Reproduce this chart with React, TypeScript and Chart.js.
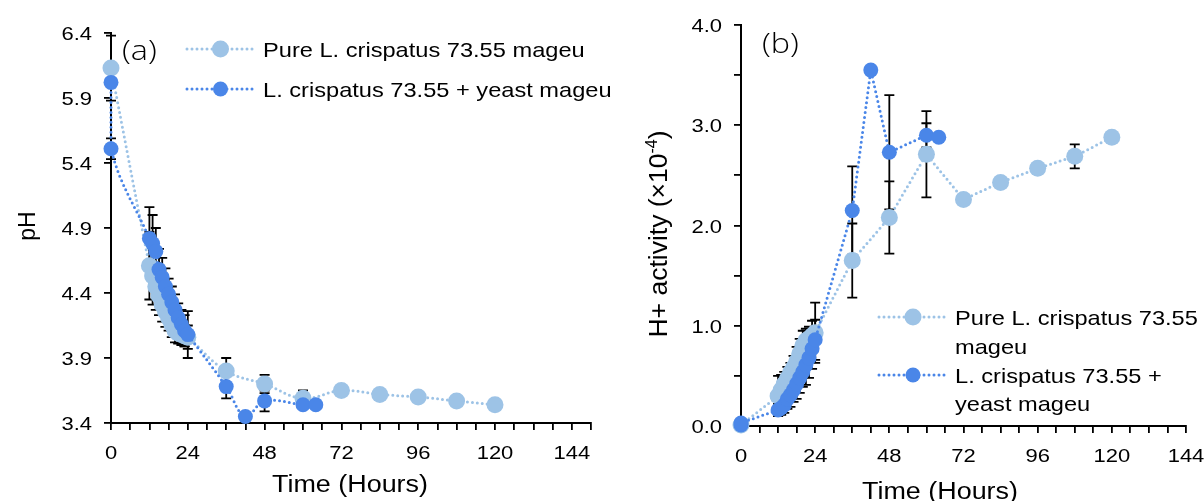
import React, { useEffect, useRef } from 'react';
import { Chart, registerables } from 'chart.js';
Chart.register(...registerables);

const FONT = "'Liberation Sans', Arial, sans-serif";
const TAG_FONT = "'Open Sans', 'Noto Sans', sans-serif";
const LIGHT = '#9DC3E6';
const DARK = '#4A86E8';

// ---------- Panel (a): pH ----------
const pureLabel = 'Pure L. crispatus 73.55 mageu';
const mixLabel = 'L. crispatus 73.55 + yeast mageu';
const timeTitle = 'Time (Hours)';

const hourLabels = [0, 24, 48, 72, 96, 120, 144];

const phPureTime = [0, 12, 13, 14, 15, 16, 17, 18, 19, 20, 21, 22, 23, 24, 36, 48, 60, 72, 84, 96, 108, 120];
const phPureValue = [6.13, 4.61, 4.53, 4.45, 4.38, 4.31, 4.26, 4.21, 4.16, 4.11, 4.09, 4.08, 4.07, 4.06, 3.80, 3.70, 3.59, 3.65, 3.62, 3.60, 3.57, 3.54];
const phPureError = [0.25, 0.26, 0.22, 0.18, 0.15, 0.13, 0.12, 0.1, 0.1, 0.09, 0.08, 0.08, 0.08, 0.09, 0.1, 0.07, 0.06, 0, 0, 0, 0, 0];

const phMixTime = [0, 0, 12, 13, 14, 15, 16, 17, 18, 19, 20, 21, 22, 23, 24, 36, 42, 48, 60, 64];
const phMixValue = [6.02, 5.51, 4.82, 4.78, 4.72, 4.58, 4.52, 4.45, 4.39, 4.33, 4.27, 4.21, 4.16, 4.11, 4.08, 3.68, 3.45, 3.57, 3.54, 3.54];
const phMixError = [0, 0.08, 0.24, 0.22, 0.18, 0.16, 0.15, 0.14, 0.12, 0.12, 0.12, 0.11, 0.11, 0.12, 0.18, 0.09, 0, 0.08, 0.02, 0];

const phTicks = [3.4, 3.9, 4.4, 4.9, 5.4, 5.9, 6.4];
const phTickLabels = ['3.4', '3.9', '4.4', '4.9', '5.4', '5.9', '6.4'];

// ---------- Panel (b): H+ activity ----------
const hPureTime = [0, 12, 13, 14, 15, 16, 17, 18, 19, 20, 21, 22, 23, 24, 36, 48, 60, 72, 84, 96, 108, 120];
const hPureValue = [0.01, 0.30, 0.36, 0.42, 0.47, 0.53, 0.58, 0.64, 0.72, 0.80, 0.85, 0.87, 0.90, 0.93, 1.65, 2.08, 2.71, 2.26, 2.43, 2.57, 2.69, 2.88];
const hPureError = [0, 0.2, 0.15, 0.12, 0.12, 0.1, 0.12, 0.15, 0.15, 0.15, 0.12, 0.12, 0.15, 0.3, 0.37, 0.36, 0.43, 0, 0, 0, 0.12, 0];

const hMixTime = [0, 0, 12, 13, 14, 15, 16, 17, 18, 19, 20, 21, 22, 23, 24, 36, 42, 48, 60, 64];
const hMixValue = [0.01, 0.03, 0.16, 0.18, 0.21, 0.27, 0.31, 0.36, 0.42, 0.48, 0.54, 0.61, 0.68, 0.77, 0.86, 2.15, 3.55, 2.73, 2.90, 2.88];
const hMixError = [0, 0, 0.06, 0.07, 0.08, 0.1, 0.12, 0.12, 0.15, 0.15, 0.15, 0.2, 0.2, 0.2, 0.2, 0.44, 0, 0.57, 0.12, 0];

const hTicks = [0, 0.5, 1, 1.5, 2, 2.5, 3, 3.5, 4];
const hTickLabels = ['0.0', '', '1.0', '', '2.0', '', '3.0', '', '4.0'];

const pts = (xs: number[], ys: number[]) => xs.map((x, i) => ({ x, y: ys[i] }));

const errorBarPlugin = {
  id: 'errorBars',
  beforeDatasetsDraw(chart: any) {
    const ctx = chart.ctx;
    const xs = chart.scales.x;
    const ys = chart.scales.y;
    ctx.save();
    ctx.strokeStyle = '#000';
    ctx.lineWidth = 1.8;
    ctx.setLineDash([]);
    chart.data.datasets.forEach((ds: any) => {
      const errs = ds.errors as number[] | undefined;
      if (!errs) return;
      ds.data.forEach((p: any, i: number) => {
        const e = errs[i];
        if (!e) return;
        const x = xs.getPixelForValue(p.x);
        const y1 = ys.getPixelForValue(p.y + e);
        const y2 = ys.getPixelForValue(p.y - e);
        ctx.beginPath();
        ctx.moveTo(x, y1);
        ctx.lineTo(x, y2);
        ctx.moveTo(x - 5, y1);
        ctx.lineTo(x + 5, y1);
        ctx.moveTo(x - 5, y2);
        ctx.lineTo(x + 5, y2);
        ctx.stroke();
      });
    });
    ctx.restore();
  },
};

function stretchText(ctx: any, text: string, x: number, y: number, font: string, sx: number, align: string) {
  ctx.save();
  ctx.translate(x, y);
  ctx.scale(sx, 1);
  ctx.font = font;
  ctx.textAlign = align;
  ctx.textBaseline = 'alphabetic';
  ctx.fillText(text, 0, 0);
  ctx.restore();
}

const textPlugin = {
  id: 'panelTexts',
  afterDraw(chart: any, _args: any, o: any) {
    const ctx = chart.ctx;
    const xs = chart.scales.x;
    const ys = chart.scales.y;
    ctx.save();
    ctx.fillStyle = '#000';
    // x tick labels
    o.xValues.forEach((v: number) => {
      stretchText(ctx, String(v), xs.getPixelForValue(v), o.xLabelBaseline, `${o.tickSize}px ${FONT}`, o.sx, 'center');
    });
    // y tick labels
    o.yValues.forEach((v: number, i: number) => {
      const t = o.yLabels[i];
      if (!t) return;
      stretchText(ctx, t, o.yLabelRight, ys.getPixelForValue(v) + o.yLabelShift, `${o.tickSize}px ${FONT}`, o.sx, 'right');
    });
    // x title
    stretchText(ctx, o.xTitle.text, o.xTitle.x, o.xTitle.y, `${o.xTitle.size}px ${FONT}`, o.sx, 'center');
    // y title (rotated, with optional superscript)
    {
      const t = o.yTitle;
      ctx.save();
      ctx.translate(t.x, t.y);
      ctx.rotate(-Math.PI / 2);
      ctx.textBaseline = 'alphabetic';
      ctx.textAlign = 'left';
      const mainFont = `${t.size}px ${FONT}`;
      const supFont = `${Math.round(t.size * 0.62)}px ${FONT}`;
      ctx.font = mainFont;
      const w1 = ctx.measureText(t.main).width;
      const w3 = t.after ? ctx.measureText(t.after).width : 0;
      ctx.font = supFont;
      const w2 = t.sup ? ctx.measureText(t.sup).width : 0;
      const total = w1 + w2 + w3;
      let cx = -total / 2;
      ctx.font = mainFont;
      ctx.fillText(t.main, cx, 0);
      cx += w1;
      if (t.sup) {
        ctx.font = supFont;
        ctx.fillText(t.sup, cx, -t.size * 0.38);
        cx += w2;
      }
      if (t.after) {
        ctx.font = mainFont;
        ctx.fillText(t.after, cx, 0);
      }
      ctx.restore();
    }
    // panel tag
    stretchText(ctx, o.tag.text, o.tag.x, o.tag.y, `300 ${o.tag.size}px ${TAG_FONT}`, o.tag.sx, 'left');
    // legend
    o.legend.forEach((it: any, idx: number) => {
      const ds = chart.data.datasets[idx];
      ctx.save();
      ctx.strokeStyle = ds.borderColor;
      ctx.lineWidth = 3;
      ctx.lineCap = 'round';
      ctx.setLineDash([0, 5]);
      ctx.beginPath();
      ctx.moveTo(it.x0, it.y);
      ctx.lineTo(it.x1, it.y);
      ctx.stroke();
      ctx.setLineDash([]);
      ctx.fillStyle = ds.pointBackgroundColor;
      ctx.beginPath();
      ctx.arc((it.x0 + it.x1) / 2, it.y, ds.pointRadius, 0, Math.PI * 2);
      ctx.fill();
      ctx.restore();
      it.lines.forEach((ln: string, j: number) => {
        stretchText(ctx, ln, it.tx, it.baselines[j], `${o.legendSize}px ${FONT}`, o.sx, 'left');
      });
    });
    ctx.restore();
  },
};

function axisCommon(extra: any) {
  return {
    type: 'linear',
    border: { display: true, color: '#000', width: 2 },
    grid: { drawOnChartArea: false, drawTicks: true, tickLength: 7, color: '#000', lineWidth: 1.8 },
    ...extra,
  };
}

function makeConfig(o: any) {
  const ds = (label: string, data: any, errors: number[], color: string, r: number, order: number) => ({
    label,
    data,
    errors,
    showLine: true,
    clip: false,
    borderColor: color,
    backgroundColor: color,
    pointBackgroundColor: color,
    pointBorderColor: color,
    pointBorderWidth: 0,
    pointRadius: r,
    borderWidth: 3,
    borderDash: [0, 5],
    borderCapStyle: 'round',
    tension: o.tension,
    order,
  });
  return {
    type: 'scatter',
    data: {
      datasets: [
        ds(pureLabel, o.pure, o.pureErr, LIGHT, o.pureR, 2),
        ds(mixLabel, o.mix, o.mixErr, DARK, o.mixR, 1),
      ],
    },
    options: {
      responsive: false,
      animation: false,
      layout: { padding: o.padding },
      plugins: {
        legend: { display: false },
        tooltip: { enabled: false },
        panelTexts: o.texts,
      },
      scales: {
        x: axisCommon({
          min: 0,
          max: o.xMax,
          afterFit: (s: any) => { s.height = o.xHeight; },
          afterBuildTicks: (s: any) => {
            const t = [];
            for (let v = 0; v <= o.xMax; v += 6) t.push({ value: v });
            s.ticks = t;
          },
          ticks: { display: false, autoSkip: false },
          title: { display: false },
        }),
        y: axisCommon({
          min: o.yMin,
          max: o.yMax,
          afterFit: (s: any) => { s.width = o.yWidth; },
          afterBuildTicks: (s: any) => {
            s.ticks = o.yTicks.map((v: number) => ({ value: v }));
          },
          ticks: { display: false, autoSkip: false },
          title: { display: false },
        }),
      },
    },
    plugins: [errorBarPlugin, textPlugin],
  } as any;
}

function Panel(props: { width: number; left: number; config: any }) {
  const ref = useRef<HTMLCanvasElement>(null);
  useEffect(() => {
    const chart = new Chart(ref.current as HTMLCanvasElement, props.config);
    return () => chart.destroy();
  }, []);
  return (
    <canvas
      ref={ref}
      width={props.width}
      height={501}
      style={{ position: 'absolute', left: props.left, top: 0, width: props.width, height: 501 }}
    />
  );
}

export default function App() {
  const cfgA = makeConfig({
    pure: pts(phPureTime, phPureValue),
    mix: pts(phMixTime, phMixValue),
    pureErr: phPureError,
    mixErr: phMixError,
    tension: 0.4,
    xMax: 150,
    yMin: 3.4,
    yMax: 6.4,
    yTicks: phTicks,
    yWidth: 111,
    xHeight: 78,
    padding: { top: 33, right: 29, left: 0, bottom: 0 },
    pureR: 8.5,
    mixR: 7.5,
    texts: {
      sx: 1.17,
      tickSize: 18.8,
      legendSize: 20.2,
      xValues: hourLabels,
      xLabelBaseline: 459,
      yValues: phTicks,
      yLabels: phTickLabels,
      yLabelRight: 92,
      yLabelShift: 6.7,
      xTitle: { text: timeTitle, x: 350, y: 491.5, size: 23 },
      yTitle: { main: 'pH', x: 35, y: 226, size: 23 },
      tag: { text: '(a)', x: 122, y: 60, size: 27, sx: 1.2 },
      legend: [
        { x0: 187, x1: 254, y: 49, tx: 263, baselines: [56.7], lines: [pureLabel] },
        { x0: 187, x1: 254, y: 89, tx: 263, baselines: [97.3], lines: [mixLabel] },
      ],
    },
  });
  const cfgB = makeConfig({
    pure: pts(hPureTime, hPureValue),
    mix: pts(hMixTime, hMixValue),
    pureErr: hPureError,
    mixErr: hMixError,
    tension: 0,
    xMax: 144,
    yMin: 0,
    yMax: 4,
    yTicks: hTicks,
    yWidth: 121,
    xHeight: 75,
    padding: { top: 25, right: 18, left: 0, bottom: 0 },
    pureR: 8.5,
    mixR: 7.5,
    texts: {
      sx: 1.17,
      tickSize: 18.8,
      legendSize: 20.2,
      xValues: hourLabels,
      xLabelBaseline: 462,
      yValues: hTicks,
      yLabels: hTickLabels,
      yLabelRight: 102,
      yLabelShift: 7,
      xTitle: { text: timeTitle, x: 320, y: 499, size: 23 },
      yTitle: { main: 'H+ activity (×10', sup: '-4', after: ')', x: 47, y: 234, size: 26.5 },
      tag: { text: '(b)', x: 142, y: 53, size: 27, sx: 1.2 },
      legend: [
        { x0: 259, x1: 327, y: 317, tx: 335, baselines: [325, 354], lines: ['Pure L. crispatus 73.55', 'mageu'] },
        { x0: 259, x1: 327, y: 375, tx: 335, baselines: [383, 411], lines: ['L. crispatus 73.55 +', 'yeast mageu'] },
      ],
    },
  });
  return (
    <div style={{ position: 'fixed', left: 0, top: 0, width: 1204, height: 501, background: '#fff' }}>
      <Panel width={620} left={0} config={cfgA} />
      <Panel width={584} left={620} config={cfgB} />
    </div>
  );
}
